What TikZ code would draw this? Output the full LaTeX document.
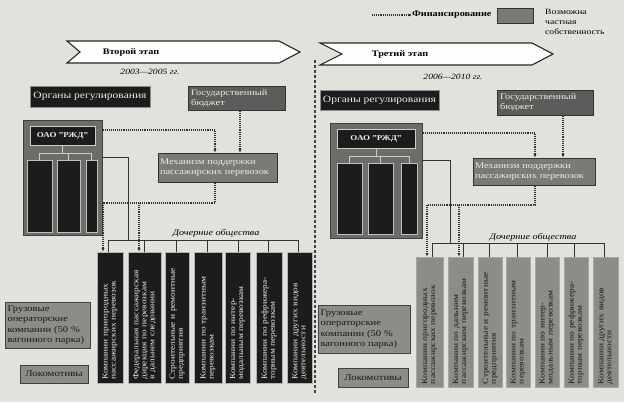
\documentclass[tikz,border=0pt]{standalone}
\usepackage{fontspec}
\setmainfont{Liberation Serif}[FakeStretch=1.2]
\usetikzlibrary{arrows.meta}
\definecolor{bgc}{RGB}{226,226,220}
\definecolor{dkc}{RGB}{28,28,28}
\definecolor{grc}{RGB}{122,122,118}
\definecolor{grd}{RGB}{92,92,90}
\definecolor{lgr}{RGB}{140,140,136}
\definecolor{contc}{RGB}{108,108,104}
\definecolor{lnc}{RGB}{50,50,50}
\definecolor{ltxt}{RGB}{235,235,230}
\tikzset{
  box/.style={rectangle, inner sep=3pt, line width=0.8pt, anchor=center,
    font=\fontsize{9}{9.5}\selectfont},
  dk/.style={box, fill=dkc, draw=black!45, text=ltxt, font=\fontsize{9.6}{10}\selectfont},
  dkin/.style={box, fill=dkc, draw=black!20, line width=1pt, text=ltxt},
  grb/.style={box, fill=grd, draw=black!80, text=ltxt},
  grm/.style={box, fill=grc, draw=black!80, text=ltxt},
  grl/.style={box, fill=lgr, draw=black!75, text=black!90},
  contbox/.style={box, fill=contc, draw=black!75, line width=0.9pt},
  colbox/.style={box, fill=dkc, draw=black!25, line width=0.9pt},
  dd/.style={box, fill=dkc, draw=black!30, line width=0.9pt},
  gd/.style={box, fill=lgr, draw=black!35, line width=0.9pt},
  vtxt/.style={rotate=90, align=left, inner sep=0pt, text width=124pt,
    font=\fontsize{7.8}{8}\selectfont},
  banner/.style={fill=white!92!bgc, draw=black!85, line width=1.1pt, line join=miter},
  bantxt/.style={font=\bfseries\fontsize{8.5}{9}\selectfont, inner sep=0pt},
  yrtxt/.style={font=\itshape\fontsize{8}{9}\selectfont, inner sep=0pt},
  dochtxt/.style={font=\itshape\fontsize{8.5}{9}\selectfont, inner sep=0pt},
  mtxt/.style={font=\fontsize{8.6}{9.8}\selectfont, align=left},
  fin/.style={densely dotted, line width=1.1pt, draw=lnc, -{Latex[length=3.5pt,width=3.2pt]}},
  finl/.style={densely dotted, line width=1.1pt, draw=lnc},
  ln/.style={line width=0.8pt, draw=lnc},
  brk/.style={line width=0.6pt, draw=black!20},
  sepl/.style={densely dashed, line width=1.3pt, draw=black!75}
}
\begin{document}
\begin{tikzpicture}[x=1pt,y=-1pt]
\fill[bgc] (0,0) rectangle (624,402);
\useasboundingbox (0,0) rectangle (624,402);

% ---------- legend ----------
\coordinate (legA) at (372,15);
\node[anchor=west, inner sep=0pt, font=\bfseries\fontsize{8.5}{9}\selectfont] (legF) at (412,15) {Финансирование};
\draw[fin] (legA) -- (legF.west);
\node[grm, minimum width=36, minimum height=15] (legB) at (515,15.5) {};
\node[anchor=north west, inner sep=0pt, align=left, font=\fontsize{8}{10}\selectfont] (legT) at (545,9) {Возможна\\ частная\\ собственность};

% ---------- separator ----------
\draw[sepl] (315,60) -- (315,393);

% ================= LEFT: second stage =================
\draw[banner] (67,41) -- (279,41) -- (300,52) -- (279,63) -- (67,63) -- (80,52) -- cycle;
\node[bantxt] (banL) at (131,52) {Второй этап};
\node[yrtxt] (yrL) at (150,72) {2003—2005 гг.};

\node[dk, minimum width=120, minimum height=21] (orgL) at (90,96.5) {Органы регулирования};
\node[grb, minimum width=97, minimum height=23, text width=91, mtxt] (budL) at (236.5,98.5) {Государственный\\ бюджет};

\node[contbox, minimum width=79, minimum height=115] (contL) at (62.5,177.5) {};
\node[dkin, minimum width=65, minimum height=19, font=\bfseries\fontsize{7.5}{8}\selectfont] (rzdL) at (62.5,135.5) {ОАО "РЖД"};
\node[colbox, minimum width=25, minimum height=72] (cL1) at (39.5,196) {};
\node[colbox, minimum width=23, minimum height=72] (cL2) at (68.5,196) {};
\node[colbox, minimum width=11, minimum height=72] (cL3) at (91.5,196) {};
\coordinate (brL) at (62.5,153);
\draw[brk] (rzdL.south) -- (brL);
\draw[brk] (cL1.north |- brL) -- (cL3.north |- brL);
\foreach \c in {cL1,cL2,cL3} \draw[brk] (\c.north |- brL) -- (\c.north);

\node[grm, minimum width=119, minimum height=29, text width=115, inner sep=2pt, mtxt] (mechL) at (217.5,167.5) {Механизм поддержки\\ пассажирских перевозок};

\node[dochtxt] (dochL) at (216,233) {Дочерние общества};

\foreach \n/\cx/\w/\t in {
  dL1/110/26/{Компании пригородных\\ пассажирских перевозок},
  dL2/144.5/33/{Федеральная пассажирская\\ дирекция по перевозкам\\ в дальнем следовании},
  dL3/177/24/{Строительные и ремонтные\\ предприятия},
  dL4/208/28/{Компании по транзитным\\ перевозкам},
  dL5/237.5/25/{Компании по интер-\\модальным перевозкам},
  dL6/269/26/{Компании по рефрижера-\\торным перевозкам},
  dL7/299.5/25/{Компании других видов\\ деятельности}}{
  \node[dd, minimum width=\w, minimum height=131] (\n) at (\cx,317.5) {};
  \node[vtxt, text=ltxt] (\n-t) at (\n) {\t};
}

\node[grl, minimum width=85, minimum height=46, text width=80, align=left, inner sep=2.5pt, font=\fontsize{8.8}{10.3}\selectfont] (frL) at (47.5,325) {Грузовые\\ операторские\\ компании (50 \%\\ вагонного парка)};
\node[grl, minimum width=68, minimum height=18] (locL) at (54,374) {Локомотивы};

% left connectors
\draw[fin] (contL.east |- 0,130) -| (mechL.north -| 215,0);
\draw[fin] (budL.south -| 240,0) -- (mechL.north -| 240,0);
\coordinate (busL) at (128,240);
\draw[ln] (contL.east |- 0,157) -| (busL);
\coordinate (busLa) at (108,240);
\coordinate (busLb) at (298,240);
\draw[ln] (busLa) -- (busLb);
\foreach \n/\x in {dL1/108,dL2/144,dL3/176,dL4/207,dL5/238,dL6/268,dL7/298}
  \draw[ln] (\x,240) -- (\n.north -| \x,0);
\coordinate (jL1) at (103,203);
\coordinate (jL2) at (139,203);
\draw[finl] (mechL.south -| 215,0) |- (jL1);
\draw[fin] (jL1) -- (dL1.north -| jL1);
\draw[fin] (jL2) -- (dL2.north -| jL2);

% ================= RIGHT: third stage =================
\draw[banner] (320,43) -- (532,43) -- (553,54) -- (532,65) -- (320,65) -- (342,54) -- cycle;
\node[bantxt] (banR) at (400,54) {Третий этап};
\node[yrtxt] (yrR) at (453,77) {2006—2010 гг.};

\node[dk, minimum width=115, minimum height=20] (orgR) at (379.5,100) {Органы регулирования};
\node[grb, minimum width=96, minimum height=25, text width=90, mtxt] (budR) at (545,102.5) {Государственный\\ бюджет};

\node[contbox, minimum width=92, minimum height=115] (contR) at (376,180.5) {};
\node[dkin, minimum width=78, minimum height=19, font=\bfseries\fontsize{7.5}{8}\selectfont] (rzdR) at (376,138.5) {ОАО "РЖД"};
\node[colbox, minimum width=25, minimum height=71] (cR1) at (349.5,198.5) {};
\node[colbox, minimum width=25, minimum height=71] (cR2) at (380.5,198.5) {};
\node[colbox, minimum width=16, minimum height=71] (cR3) at (409,198.5) {};
\coordinate (brR) at (376,156);
\draw[brk] (rzdR.south) -- (brR);
\draw[brk] (cR1.north |- brR) -- (cR3.north |- brR);
\foreach \c in {cR1,cR2,cR3} \draw[brk] (\c.north |- brR) -- (\c.north);

\node[grm, minimum width=122, minimum height=27, text width=118, inner sep=2pt, mtxt] (mechR) at (534,171.5) {Механизм поддержки\\ пассажирских перевозок};

\node[dochtxt] (dochR) at (533,237) {Дочерние общества};

\foreach \n/\cx/\w/\t in {
  dR1/429.5/27/{Компании пригородных\\ пассажирских перевозок},
  dR2/460.5/25/{Компании по дальним\\ пассажирским перевозкам},
  dR3/490/24/{Строительные и ремонтные\\ предприятия},
  dR4/518/24/{Компании по транзитным\\ перевозкам},
  dR5/547/24/{Компании по интер-\\модальным перевозкам},
  dR6/576/24/{Компании по рефрижера-\\торным перевозкам},
  dR7/605.5/25/{Компании других видов\\ деятельности}}{
  \node[gd, minimum width=\w, minimum height=130] (\n) at (\cx,322) {};
  \node[vtxt, text=black!90] (\n-t) at (\n) {\t};
}

\node[grl, minimum width=92, minimum height=48, text width=87, align=left, inner sep=2.5pt, font=\fontsize{8.8}{10.5}\selectfont] (frR) at (364,329) {Грузовые\\ операторские\\ компании (50 \%\\ вагонного парка)};
\node[grl, minimum width=70, minimum height=19] (locR) at (373,377.5) {Локомотивы};

% right connectors
\draw[fin] (contR.east |- 0,133) -| (mechR.north -| 535,0);
\draw[fin] (budR.south -| 563,0) -- (mechR.north -| 563,0);
\coordinate (busR) at (450,243);
\draw[ln] (contR.east |- 0,160) -| (busR);
\coordinate (busRa) at (432,243);
\coordinate (busRb) at (604,243);
\draw[ln] (busRa) -- (busRb);
\foreach \n/\x in {dR1/432,dR2/463,dR3/489,dR4/517,dR5/547,dR6/574,dR7/604}
  \draw[ln] (\x,243) -- (\n.north -| \x,0);
\coordinate (jR1) at (427,205);
\coordinate (jR2) at (459,205);
\draw[finl] (mechR.south -| 535,0) |- (jR1);
\draw[fin] (jR1) -- (dR1.north -| jR1);
\draw[fin] (jR2) -- (dR2.north -| jR2);
\end{tikzpicture}
\end{document}
